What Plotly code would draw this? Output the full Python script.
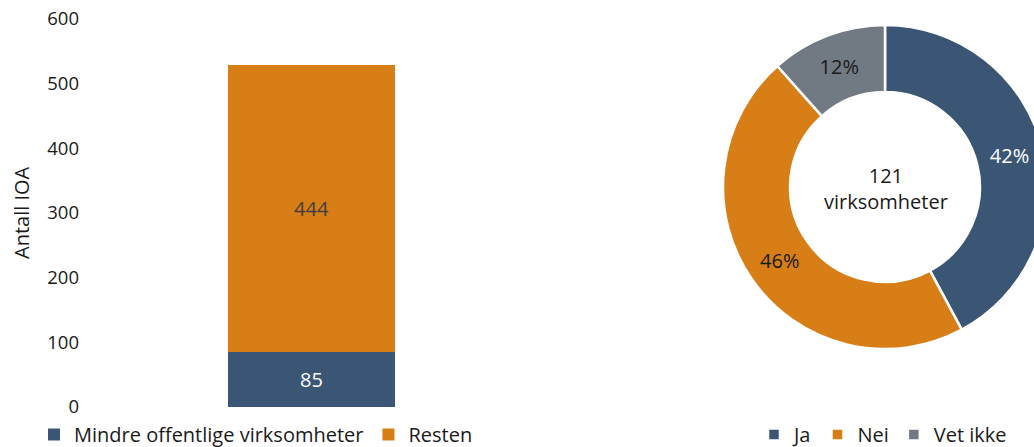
import plotly.graph_objects as go

# The figure is a little larger than the 1034x447 window so that the donut
# is clipped at the right edge (as in the reference); the body margin is
# removed after drawing.
W, H = 1050, 475

# Bar data
bar_category = [""]
bar_series = ["Mindre offentlige virksomheter", "Resten"]
bar_values = [[85], [444]]
bar_colors = ["#3A5674", "#D77E17"]
bar_text_colors = ["#FFFFFF", "#404040"]
y_ticks = [0, 100, 200, 300, 400, 500, 600]

# Donut data
pie_labels = ["Ja", "Nei", "Vet ikke"]
pie_values = [51, 56, 14]
pie_colors = ["#3A5674", "#D77E17", "#717A82"]
pie_text_colors = ["#FFFFFF", "#1A1A1A", "#1A1A1A"]
center_text = "121<br>virksomheter"
y_title = "Antall IOA"

FONT = "Open Sans"
FS = 20
FS_TICK = 18.5
TXT = "#1A1A1A"

def px(sx):
    return sx / W

def py(sy):
    return (H - sy) / H

fig = go.Figure()
for name, vals, col, tcol in zip(bar_series, bar_values, bar_colors, bar_text_colors):
    fig.add_trace(go.Bar(
        x=bar_category, y=vals, name=name, marker=dict(color=col, line=dict(width=0)),
        text=vals, textposition="inside", insidetextanchor="middle",
        textfont=dict(color=tcol, size=FS, family=FONT), width=0.374,
        legend="legend",
    ))

fig.add_trace(go.Pie(
    labels=pie_labels, values=pie_values, hole=0.586, sort=False, direction="clockwise",
    rotation=0, marker=dict(colors=pie_colors, line=dict(color="white", width=2.5)),
    texttemplate="%{percent:.0%}", textposition="inside", insidetextorientation="horizontal",
    textfont=dict(color=pie_text_colors, size=FS, family=FONT),
    domain=dict(x=[px(723), px(1047)], y=[py(349), py(25)]),
    legend="legend2",
))

fig.update_layout(
    width=W, height=H, margin=dict(l=0, r=0, t=0, b=0, autoexpand=False),
    paper_bgcolor="white", plot_bgcolor="white",
    barmode="stack", showlegend=True,
    font=dict(family=FONT, size=FS, color=TXT),
    xaxis=dict(domain=[px(88), px(535)], showticklabels=False, showgrid=False, zeroline=False,
               showline=False, range=[-0.5, 0.5], automargin=False),
    yaxis=dict(domain=[py(407), py(19)], range=[0, 600], tickvals=y_ticks, showgrid=False,
               zeroline=False, showline=False, ticks="", ticklabelstandoff=8,
               automargin=False, tickfont=dict(size=FS_TICK, color=TXT)),
    legend=dict(orientation="h", x=px(34), y=py(434.5), xanchor="left", yanchor="middle",
                traceorder="normal", font=dict(size=FS, color=TXT), itemwidth=30,
                bgcolor="rgba(0,0,0,0)"),
    legend2=dict(orientation="h", x=px(754), y=py(434.5), xanchor="left", yanchor="middle",
                 traceorder="normal", font=dict(size=FS, color=TXT), itemwidth=30,
                 bgcolor="rgba(0,0,0,0)"),
    annotations=[
        dict(text=y_title, x=px(21), y=py(213), xref="paper", yref="paper", showarrow=False,
             xanchor="center", yanchor="middle",
             textangle=-90, font=dict(size=FS, color=TXT)),
        dict(text=center_text, x=px(886), y=py(188), xref="paper", yref="paper", showarrow=False,
             xanchor="center", yanchor="middle",
             font=dict(size=FS, color=TXT)),
    ],
)

fig.write_html(
    "out.html",
    config={"displayModeBar": False},
    post_script="document.body.style.margin='0';document.body.style.overflow='hidden';",
)
